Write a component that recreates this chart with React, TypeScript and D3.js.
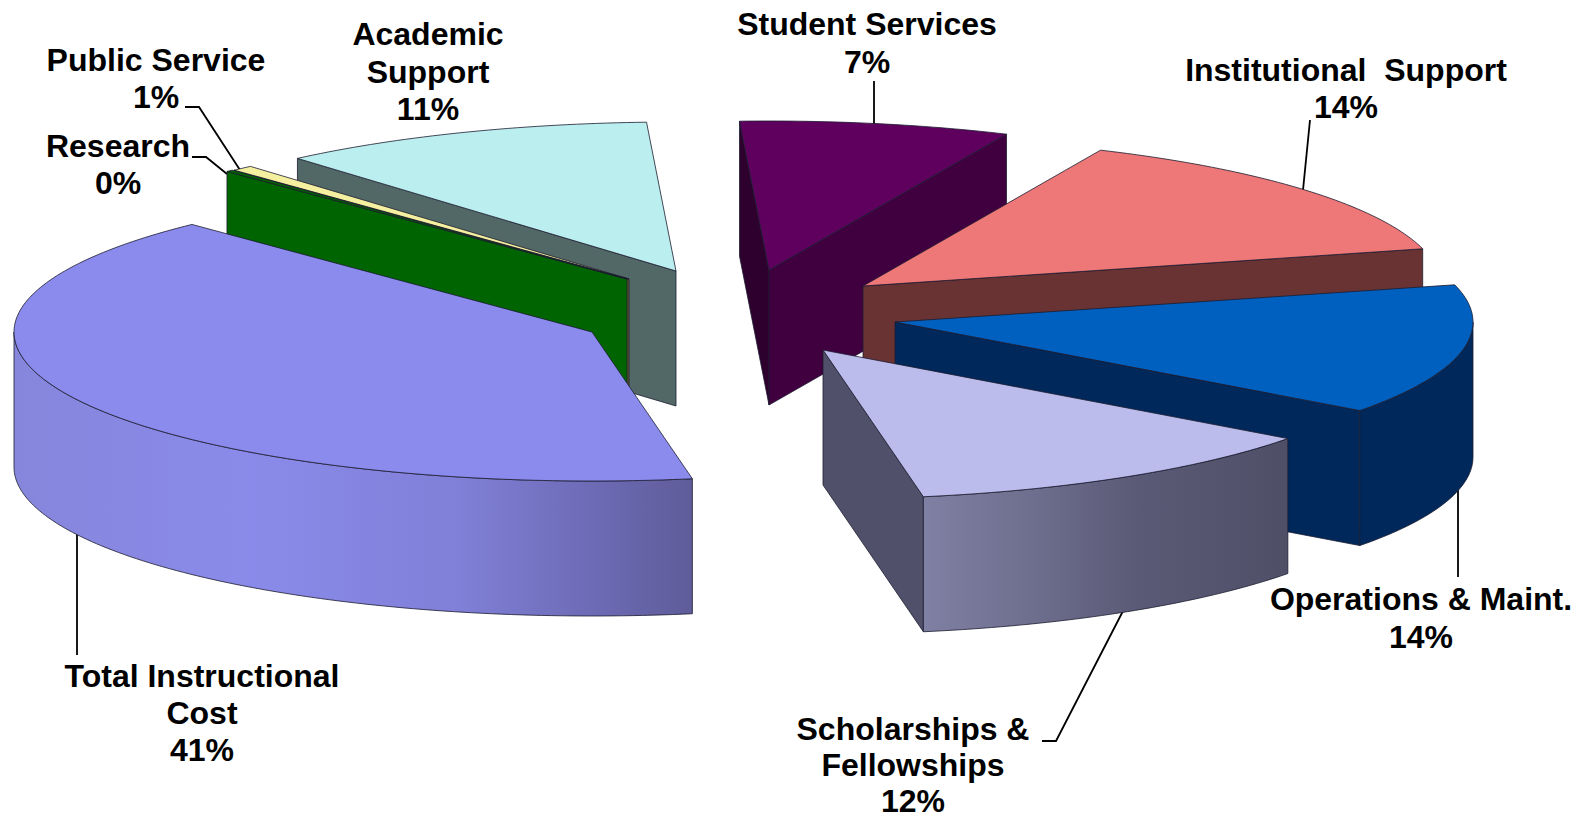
import React from "react";
import * as d3 from "d3";

// ---- data ----
const categories = ["Total Instructional Cost", "Research", "Public Service", "Academic Support", "Student Services", "Institutional Support", "Operations & Maint.", "Scholarships & Fellowships"];
const shares = [40.6, 0.2, 0.6, 10.55, 7.55, 14.24, 14.14, 12.09];
const percentLabels = ["41%", "0%", "1%", "11%", "7%", "14%", "14%", "12%"];

// ---- styles and layout ----
const W = 1587, H = 819;
const RX = 578, RY = 149, DEPTH = 135;
const START_DEG = 170;
const centers: [number, number][] = [[592, 332], [627, 279], [629, 279], [676, 271], [769, 270], [863, 286], [895, 322], [823, 350]];
const topColors = ["#8b8bee", "#006400", "#f4f0a0", "#bbeeee", "#5f005f", "#ee7777", "#0060bf", "#bbbbec"];
const startWallColors = ["#555", "#006400", "#5a5a28", "#526866", "#2e002e", "#693333", "#00285a", "#50506a"];
const endWallColors = ["#555", "#006400", "#5a5a28", "#526866", "#400040", "#693333", "#00285a", "#50506a"];
const outerFills = ["url(#gradTotal)", "#006400", "#f4f0a0", "#526866", "#400040", "#693333", "#00285a", "url(#gradSchol)"];
const drawOrder = [3, 2, 1, 0, 4, 5, 6, 7];

const labelLines: { lines: string[]; x: number; y: number[] }[] = [
  { lines: ["Total Instructional", "Cost"], x: 202, y: [687, 724] },
  { lines: ["Research"], x: 118, y: [157] },
  { lines: ["Public Service"], x: 156, y: [71] },
  { lines: ["Academic", "Support"], x: 428, y: [45, 83] },
  { lines: ["Student Services"], x: 867, y: [35] },
  { lines: ["Institutional  Support"], x: 1346, y: [81] },
  { lines: ["Operations & Maint."], x: 1421, y: [610] },
  { lines: ["Scholarships &", "Fellowships"], x: 913, y: [740, 776] },
];
const percentY = [761, 194, 108, 120, 73, 118, 648, 812];
const leaders: [number, number][][] = [
  [[77, 533], [77, 655]],
  [[227, 174], [206, 157], [192, 157]],
  [[240, 170], [199, 107], [185, 107]],
  [[874, 125], [874, 81]],
  [[1303, 190], [1310, 120]],
  [[1458, 484], [1458, 577]],
  [[1123, 611], [1056, 741], [1042, 741]],
];

const gradTotalStops: [number, string][] = [[0, "#8686dc"], [0.35, "#8a8aea"], [0.65, "#8080d8"], [0.88, "#6a68b0"], [1, "#5e5c98"]];
const gradScholStops: [number, string][] = [[0, "#8080a4"], [0.3, "#6e6e8e"], [0.6, "#5a5a76"], [1, "#4f4f68"]];

const rad = (d: number) => (d * Math.PI) / 180;
const line = d3.line<[number, number]>().x((d) => d[0]).y((d) => d[1]);
const arcs = d3.pie<number>().sort(null).startAngle(rad(START_DEG)).endAngle(rad(START_DEG + 360))(shares);

function rim(c: [number, number], a: number, dz = 0): [number, number] {
  return [c[0] + RX * Math.sin(a), c[1] - RY * Math.cos(a) + dz];
}
function sweep(c: [number, number], a0: number, a1: number, dz = 0): [number, number][] {
  const n = Math.max(2, Math.ceil(Math.abs(a1 - a0) / rad(1)));
  return d3.range(n + 1).map((i) => rim(c, a0 + ((a1 - a0) * i) / n, dz));
}
function closed(pts: [number, number][]) {
  return (line(pts) as string) + "Z";
}

const STROKE = { stroke: "#1c1c30", strokeWidth: 0.8, strokeLinejoin: "round" as const };

function Slice({ i }: { i: number }) {
  const arc = arcs[i];
  const c = centers[i];
  const wrap = arc.startAngle >= 2 * Math.PI ? 2 * Math.PI : 0;
  const a0 = arc.startAngle - wrap, a1 = arc.endAngle - wrap;
  const parts: React.ReactNode[] = [];
  const c2: [number, number] = [c[0], c[1] + DEPTH];
  if (Math.sin(a0) < 0) {
    parts.push(<path key="ws" d={closed([c, rim(c, a0), rim(c, a0, DEPTH), c2])} fill={startWallColors[i]} {...STROKE} />);
  }
  if (Math.sin(a1) > 0) {
    parts.push(<path key="we" d={closed([c, rim(c, a1), rim(c, a1, DEPTH), c2])} fill={endWallColors[i]} {...STROKE} />);
  }
  // front-facing part of the outer rim
  const lo = Math.max(a0, rad(90)), hi = Math.min(a1, rad(270));
  if (hi > lo) {
    parts.push(<path key="o" d={closed([...sweep(c, lo, hi), ...sweep(c, hi, lo, DEPTH)])} fill={outerFills[i]} {...STROKE} />);
  }
  parts.push(<path key="t" d={closed([c, ...sweep(c, a0, a1)])} fill={topColors[i]} {...STROKE} />);
  return <g data-name={categories[i]}>{parts}</g>;
}

const textStyle = { fontFamily: "'Liberation Sans', Arial, sans-serif", fontWeight: 700, fontSize: 32 };

export default function App() {
  return (
    <svg width={W} height={H} viewBox={`0 0 ${W} ${H}`} style={{ position: "absolute", left: 0, top: 0, background: "#fff" }}>
      <defs>
        <linearGradient id="gradTotal" gradientUnits="userSpaceOnUse" x1={14} x2={694} y1={0} y2={0}>
          {gradTotalStops.map(([o, col]) => <stop key={o} offset={o} stopColor={col} />)}
        </linearGradient>
        <linearGradient id="gradSchol" gradientUnits="userSpaceOnUse" x1={923} x2={1284} y1={0} y2={0}>
          {gradScholStops.map(([o, col]) => <stop key={o} offset={o} stopColor={col} />)}
        </linearGradient>
      </defs>
      {leaders.map((pts, i) => (
        <path key={i} d={line(pts) as string} fill="none" stroke="#000" strokeWidth={1.8} />
      ))}
      {drawOrder.map((i) => <Slice key={i} i={i} />)}
      {labelLines.map((l, i) => (
        <g key={i} style={textStyle} fill="#000" textAnchor="middle">
          {l.lines.map((t, j) => (
            <text key={j} x={l.x} y={l.y[j]} xmlSpace="preserve">{t}</text>
          ))}
          <text x={l.x} y={percentY[i]}>{percentLabels[i]}</text>
        </g>
      ))}
    </svg>
  );
}
